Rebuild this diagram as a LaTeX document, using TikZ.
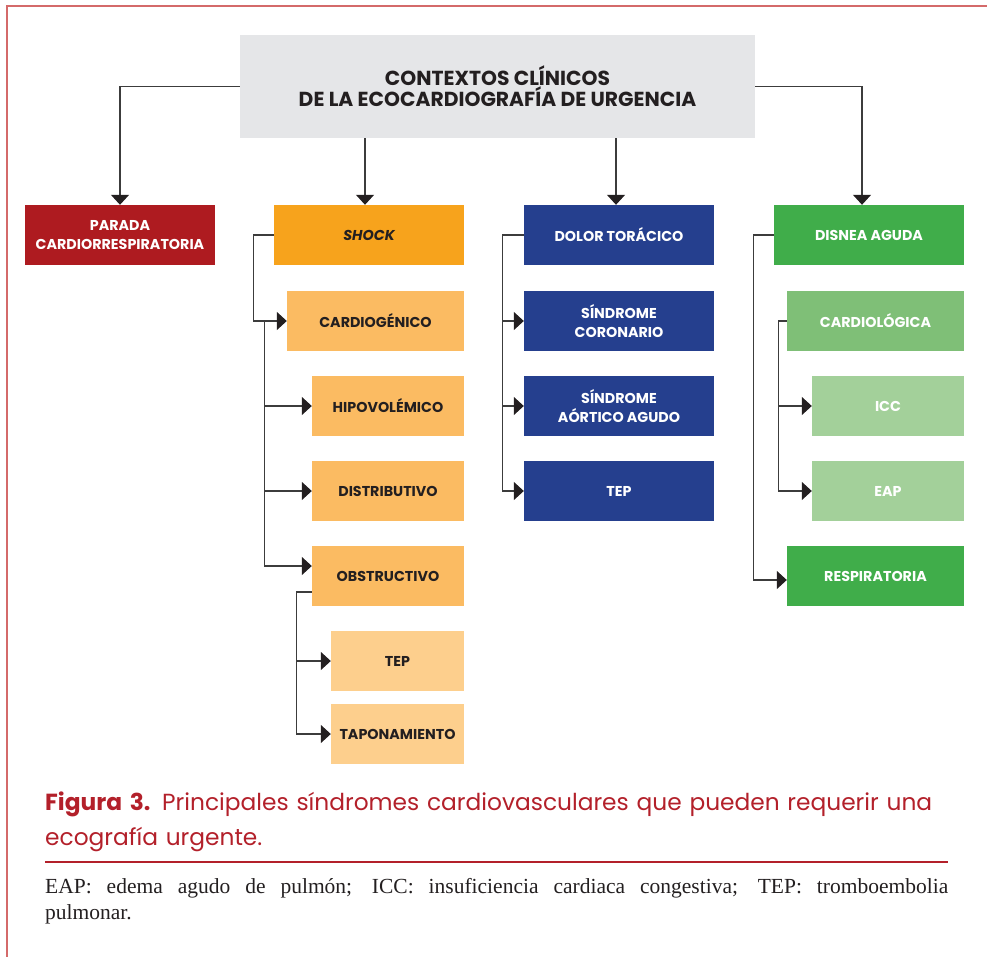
\documentclass[tikz,border=0pt]{standalone}
\usepackage{fontspec}
\setmainfont{Liberation Serif}
\newfontfamily\boxfont{Poppins}
\usetikzlibrary{arrows.meta,calc}
\definecolor{framered}{HTML}{D46A6A}
\definecolor{captionred}{HTML}{B3202A}
\definecolor{darktext}{HTML}{231F20}
\definecolor{linegray}{HTML}{3C3C3C}
\definecolor{titlegray}{HTML}{E5E6E8}
\definecolor{paradared}{HTML}{AE1B20}
\definecolor{shockorange}{HTML}{F7A31C}
\definecolor{suborange}{HTML}{FBBB62}
\definecolor{lightorange}{HTML}{FDCF8D}
\definecolor{dolorblue}{HTML}{253F8E}
\definecolor{disneagreen}{HTML}{40AD4A}
\definecolor{midgreen}{HTML}{7FBF77}
\definecolor{lightgreen}{HTML}{A3D09A}
\tikzstyle{box} = [rectangle, minimum height=60pt, inner sep=0pt, text centered, align=center, font=\boxfont\bfseries\fontsize{14.3}{19}\selectfont]
\tikzstyle{titlebox} = [rectangle, minimum width=515pt, minimum height=103pt, fill=titlegray, text=darktext, align=center, font=\boxfont\bfseries\fontsize{20.3}{21}\selectfont]
\tikzstyle{parada} = [box, minimum width=190pt, fill=paradared, text=white]
\tikzstyle{shock} = [box, minimum width=190pt, fill=shockorange, text=darktext]
\tikzstyle{shocksub} = [box, fill=suborange, text=darktext]
\tikzstyle{obstrsub} = [box, minimum width=133pt, fill=lightorange, text=darktext]
\tikzstyle{dolor} = [box, minimum width=190pt, fill=dolorblue, text=white]
\tikzstyle{disnea} = [box, fill=disneagreen, text=white]
\tikzstyle{cardiol} = [box, minimum width=177pt, fill=midgreen, text=white]
\tikzstyle{cardiolsub} = [box, minimum width=152pt, fill=lightgreen, text=white]
\tikzstyle{caption} = [anchor=north west, inner sep=0pt, text width=910pt, align=left, text=captionred, font=\boxfont\fontsize{23.3}{35}\selectfont]
\tikzstyle{notes} = [anchor=north west, inner sep=0pt, text width=903pt, align=justify, text=darktext, font=\fontsize{21.5}{26}\selectfont]
\tikzstyle{arrow} = [line width=1.3pt, draw=linegray, -{Triangle[length=10pt,width=18pt,color=darktext]}]
\tikzstyle{frame} = [line width=2pt, draw=framered]

\begin{document}
\begin{tikzpicture}[x=1pt, y=-1pt]
\useasboundingbox (0,0) rectangle (987,957);

% Marco
\draw [frame] (7,957) -- (7,6) -- (987,6);

% Título
\node (title) [titlebox] at (497.5,86.5) {CONTEXTOS CLÍNICOS\\DE LA ECOCARDIOGRAFÍA DE URGENCIA};

% Nivel 1
\node (parada) [parada] at (120,235) {PARADA\\CARDIORRESPIRATORIA};
\node (shock) [shock] at (369,235) {\itshape SHOCK};
\node (dolor) [dolor] at (619,235) {DOLOR TORÁCICO};
\node (disnea) [disnea, minimum width=190pt] at (869,235) {DISNEA AGUDA};

% Shock
\node (cardio) [shocksub, minimum width=177pt] at (375.5,321) {CARDIOGÉNICO};
\node (hipo) [shocksub, minimum width=152pt] at (388,406) {HIPOVOLÉMICO};
\node (distrib) [shocksub, minimum width=152pt] at (388,491) {DISTRIBUTIVO};
\node (obstr) [shocksub, minimum width=152pt] at (388,576) {OBSTRUCTIVO};
\node (tepobs) [obstrsub] at (397.5,661) {TEP};
\node (tapon) [obstrsub] at (397.5,734) {TAPONAMIENTO};

% Dolor torácico
\node (sindcor) [dolor] at (619,321) {SÍNDROME\\CORONARIO};
\node (sindao) [dolor] at (619,406) {SÍNDROME\\AÓRTICO AGUDO};
\node (tepdol) [dolor] at (619,491) {TEP};

% Disnea aguda
\node (cardiol) [cardiol] at (875.5,321) {CARDIOLÓGICA};
\node (icc) [cardiolsub] at (888,406) {ICC};
\node (eap) [cardiolsub] at (888,491) {EAP};
\node (resp) [disnea, minimum width=177pt] at (875.5,576) {RESPIRATORIA};

% Flechas del título
\draw [arrow] (title.west) -| (parada);
\draw [arrow] ($(title.south -| shock.north)+(-4,0)$) -- ($(shock.north)+(-4,0)$);
\draw [arrow] ($(title.south -| dolor.north)+(-3,0)$) -- ($(dolor.north)+(-3,0)$);
\draw [arrow] (title.east) -| ($(disnea.north)+(-7,0)$);

% Flechas shock
\coordinate (shocktrunk) at ($(cardio.west)+(-22,0)$);
\draw [arrow] (shock.west) -- ++(-20,0) |- (cardio);
\draw [arrow] (shocktrunk) |- (hipo);
\draw [arrow] (shocktrunk) |- (distrib);
\draw [arrow] (shocktrunk) |- ([yshift=10pt]obstr.west);
\coordinate (obstrjoin) at ([yshift=-16pt]obstr.west);
\draw [arrow] (obstrjoin) -- ++(-15,0) |- (tepobs);
\draw [arrow] (obstrjoin) -- ++(-15,0) |- (tapon);

% Flechas dolor torácico
\draw [arrow] (dolor.west) -- ++(-21,0) |- (sindcor);
\draw [arrow] (dolor.west) -- ++(-21,0) |- (sindao);
\draw [arrow] (dolor.west) -- ++(-21,0) |- (tepdol);

% Flechas disnea
\draw [arrow] (disnea.west) -- ++(-20,0) |- ([yshift=-4pt]resp.west);
\draw [arrow] (cardiol.west) -- ++(-8,0) |- (icc);
\draw [arrow] (cardiol.west) -- ++(-8,0) |- (eap);

% Pie de figura
\node (caption) [caption] at (45,792) {{\bfseries Figura 3.}\enspace Principales síndromes cardiovasculares que pueden requerir una\\ecografía urgente.};
\draw [line width=1.3pt, draw=captionred] (45,862) -- (948,862);
\node (notes) [notes] at (45,878) {EAP: edema agudo de pulmón; ICC: insuficiencia cardiaca congestiva; TEP: tromboembolia\linebreak pulmonar.};

\end{tikzpicture}
\end{document}
